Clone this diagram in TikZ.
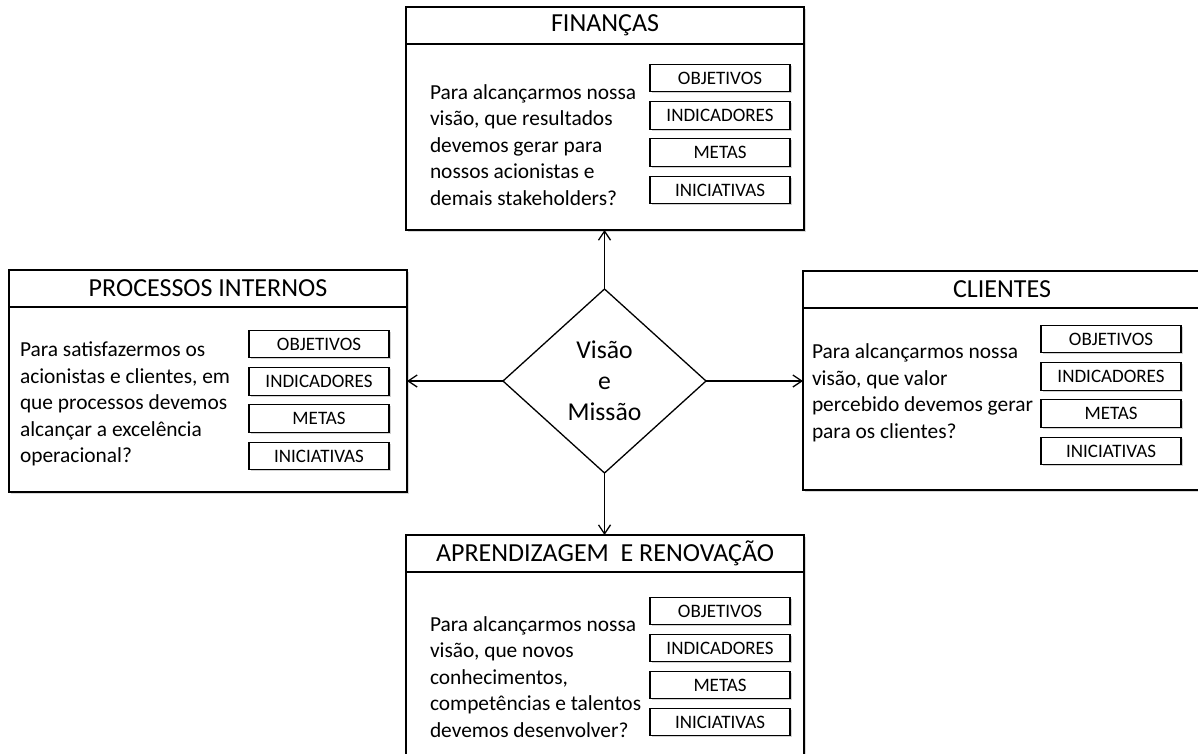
\documentclass[tikz,border=0pt]{standalone}
\usepackage{fontspec}
\setmainfont{Carlito}
\usetikzlibrary{shapes.geometric,arrows.meta,shadows}

\begin{document}
\begin{tikzpicture}[x=1pt,y=-1pt,
  every node/.style={inner sep=0pt, outer sep=0pt},
  panel/.style={draw, line width=1.3pt, fill=white, anchor=north west,
    minimum width=398pt, drop shadow={opacity=0.3, shadow xshift=1.5pt, shadow yshift=-1.5pt}},
  head/.style={draw, line width=1.3pt, anchor=north west, minimum width=398pt,
    minimum height=37pt, font=\fontsize{26}{30}\selectfont},
  tag/.style={draw, line width=1.1pt, fill=white, minimum width=140pt, minimum height=27.5pt,
    font=\fontsize{19}{22}\selectfont,
    drop shadow={opacity=0.35, shadow xshift=1.5pt, shadow yshift=-1.5pt}},
  question/.style={anchor=west, align=left, font=\fontsize{21.4}{26.5}\selectfont},
  link/.style={line width=1.3pt, -{Straight Barb[length=9pt,width=12pt,line width=1.3pt]}}
]
\useasboundingbox (0,0) rectangle (1198,753);
\fill[white] (0,0) rectangle (1198,753);
\clip (0,0) rectangle (1198,753);

% Finanças (top)
\node[panel, minimum height=223pt] (fin) at (406,7) {};
\node[head] (finH) at (fin.north west) {FINANÇAS};
\node[question] (finQ) at (430,145) {Para alcançarmos nossa\\visão, que resultados\\devemos gerar para\\nossos acionistas e\\demais stakeholders?};
\foreach \t [count=\i] in {OBJETIVOS,INDICADORES,METAS,INICIATIVAS}
  \node[tag] (fin-\i) at (720,{78+37.3*(\i-1)}) {\t};

% Processos internos (left)
\node[panel, minimum height=222pt] (pro) at (9,270) {};
\node[head] (proH) at (pro.north west) {PROCESSOS INTERNOS};
\node[question] (proQ) at (20,404) {Para satisfazermos os\\acionistas e clientes, em\\que processos devemos\\alcançar a excelência\\operacional?};
\foreach \t [count=\i] in {OBJETIVOS,INDICADORES,METAS,INICIATIVAS}
  \node[tag] (pro-\i) at (319,{344+37.3*(\i-1)}) {\t};

% Clientes (right)
\node[panel, minimum height=219pt] (cli) at (803,271) {};
\node[head, minimum height=37pt] (cliH) at (cli.north west) {CLIENTES};
\node[question] (cliQ) at (812,393) {Para alcançarmos nossa\\visão, que valor\\percebido devemos gerar\\para os clientes?};
\foreach \t [count=\i] in {OBJETIVOS,INDICADORES,METAS,INICIATIVAS}
  \node[tag] (cli-\i) at (1111,{339+37.3*(\i-1)}) {\t};

% Aprendizagem e renovação (bottom)
\node[panel, minimum height=240pt] (apr) at (406,535) {};
\node[head] (aprH) at (apr.north west) {APRENDIZAGEM\ \ E RENOVAÇÃO};
\node[question] (aprQ) at (430,677) {Para alcançarmos nossa\\visão, que novos\\conhecimentos,\\competências e talentos\\devemos desenvolver?};
\foreach \t [count=\i] in {OBJETIVOS,INDICADORES,METAS,INICIATIVAS}
  \node[tag] (apr-\i) at (720,{611+37*(\i-1)}) {\t};

% Central diamond
\node[draw, line width=1.3pt, fill=white, diamond, aspect=1.103,
  minimum width=203pt, minimum height=184pt, align=center,
  font=\fontsize{25.7}{31}\selectfont] (vm) at (604.5,381) {Visão\\e\\Missão};

% Connectors
\draw[link] (vm.north) -- (vm.north |- fin.south);
\draw[link] (vm.west) -- (vm.west -| pro.east);
\draw[link] (vm.east) -- (vm.east -| cli.west);
\draw[link] (vm.south) -- (vm.south |- apr.north);
\end{tikzpicture}
\end{document}
